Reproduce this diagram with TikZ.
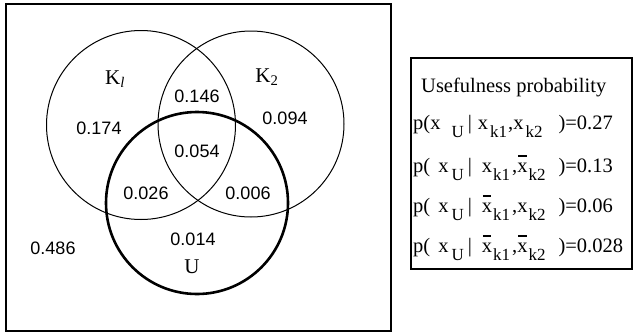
\documentclass[tikz,border=0pt]{standalone}
\usepackage{fontspec}
\setmainfont{Liberation Serif}
\newfontfamily\numfont{Liberation Sans}
\newcommand{\sbx}[1]{\raisebox{-8.5pt}{\fontsize{17}{17}\selectfont #1}}
\newcommand{\xb}{\makebox[0pt][l]{\hspace{1pt}\rule[15pt]{8.5pt}{1.7pt}}x}
\newcommand{\hs}[1]{\hspace{#1pt}}
\begin{document}
\begin{tikzpicture}[x=1pt,y=-1pt,
  num/.style={font=\numfont\fontsize{18}{18}\selectfont, inner sep=0pt},
  setlab/.style={font=\fontsize{21}{21}\selectfont, inner sep=0pt},
  row/.style={font=\fontsize{20.5}{20.5}\selectfont, inner sep=0pt, anchor=base west},
  circ/.style={draw, line width=1pt},
  frame/.style={draw, line width=2.4pt}]
\useasboundingbox (0,0) rectangle (634,335);
\draw[frame] (6,4) rectangle (391,331);
\draw[circ] (141,125) circle (94.5);
\draw[circ] (251,124) circle (93);
\draw[line width=2.6pt] (197,203) circle (91);
\node[setlab] (k1) at (115,79) {K\textsubscript{\itshape l}};
\node[setlab] (k2) at (267,77) {K\textsubscript{2}};
\node[setlab] (u) at (192,267) {U};
\node[num] (a) at (197,96) {0.146};
\node[num] (b) at (99,128) {0.174};
\node[num] (c) at (285,118) {0.094};
\node[num] (d) at (197,151) {0.054};
\node[num] (e) at (146,193) {0.026};
\node[num] (f) at (248,193) {0.006};
\node[num] (g) at (193,239) {0.014};
\node[num] (h) at (53,248) {0.486};
\draw[line width=1.8pt] (411,58) rectangle (632,269);
\node[row] (t) at (421,92) {Usefulness probability};
\node[row] (r1) at (413,129) {p(x\hs{11}\sbx{U}\hs{4}\textbar\hs{6}x\hs{2}\sbx{k1}\hs{1},x\hs{2}\sbx{k2}\hs{16})=0.27};
\node[row] (r2) at (413,172) {p(\hs{8}x\hs{3}\sbx{U}\hs{4}\textbar\hs{10}x\hs{1}\sbx{k1}\hs{2},\xb\hs{1}\sbx{k2}\hs{13})=0.13};
\node[row] (r3) at (413,212) {p(\hs{8}x\hs{3}\sbx{U}\hs{4}\textbar\hs{10}\xb\hs{1}\sbx{k1}\hs{2},x\hs{1}\sbx{k2}\hs{13})=0.06};
\node[row] (r4) at (413,252) {p(\hs{8}x\hs{3}\sbx{U}\hs{4}\textbar\hs{10}\xb\hs{1}\sbx{k1}\hs{2},\xb\hs{1}\sbx{k2}\hs{13})=0.028};
\end{tikzpicture}
\end{document}
